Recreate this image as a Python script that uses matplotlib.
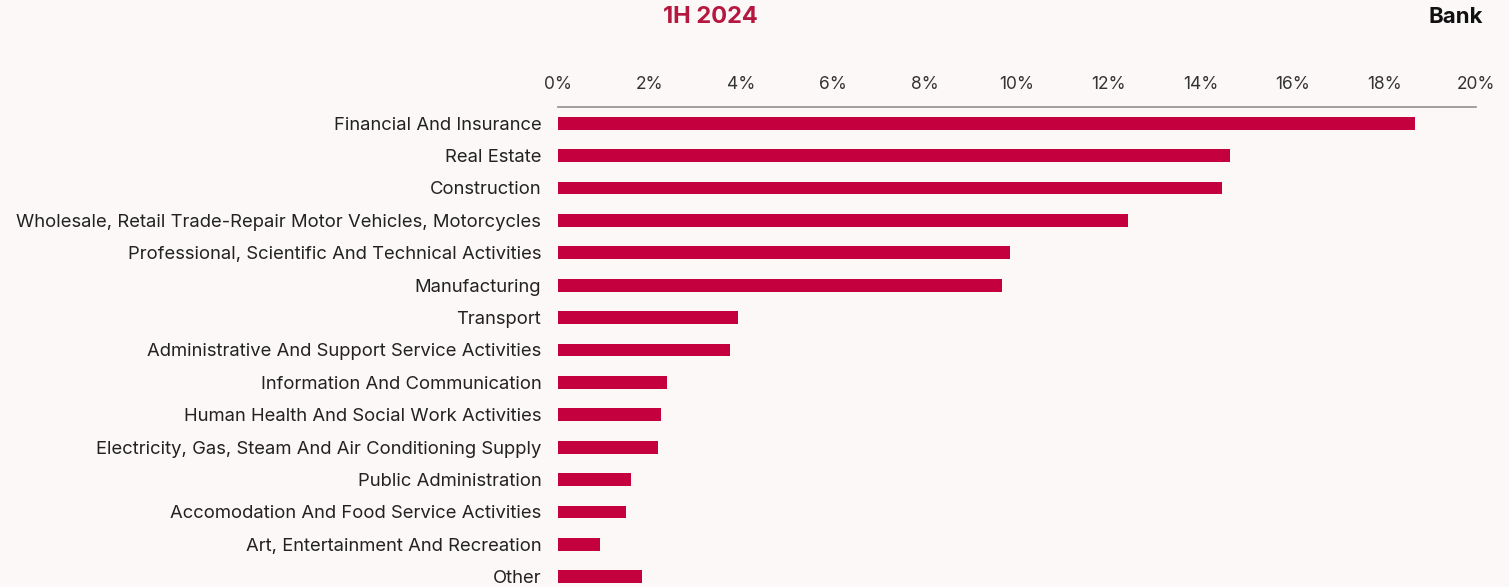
import matplotlib.pyplot as plt
from matplotlib import font_manager

# pick the static Inter files explicitly (the variable font renders too thin)
def inter(style_file):
    for f in font_manager.fontManager.ttflist:
        if f.fname.endswith(style_file):
            return f.fname
    return None

regular = font_manager.FontProperties(fname=inter("Inter-Regular.otf"))
bold = font_manager.FontProperties(fname=inter("Inter-Bold.otf"))

# sector shares of the loan book, 1H 2024
sectors = [
    "Financial And Insurance",
    "Real Estate",
    "Construction",
    "Wholesale, Retail Trade-Repair Motor Vehicles, Motorcycles",
    "Professional, Scientific And Technical Activities",
    "Manufacturing",
    "Transport",
    "Administrative And Support Service Activities",
    "Information And Communication",
    "Human Health And Social Work Activities",
    "Electricity, Gas, Steam And Air Conditioning Supply",
    "Public Administration",
    "Accomodation And Food Service Activities",
    "Art, Entertainment And Recreation",
    "Other",
]
shares = [18.67, 14.64, 14.47, 12.42, 9.85, 9.67, 3.92, 3.75,
          2.37, 2.24, 2.18, 1.59, 1.48, 0.92, 1.83]
ticks = [0, 2, 4, 6, 8, 10, 12, 14, 16, 18, 20]

bg = "#fcf8f8"
bar_color = "#c5003f"

fig = plt.figure(figsize=(15.09, 5.87), dpi=100, facecolor=bg)
ax = fig.add_axes([558 / 1509, -6 / 587, 918 / 1509, 486 / 587])
ax.set_facecolor(bg)

ypos = list(range(len(sectors)))
ax.barh(ypos, shares, height=0.4, color=bar_color)

ax.set_xlim(0, 20)
ax.set_ylim(len(sectors) - 0.5, -0.5)
ax.set_xticks(ticks)
ax.set_xticklabels([f"{t}%" for t in ticks])
ax.xaxis.tick_top()
ax.tick_params(axis='x', length=0, pad=10, labelcolor="#333333")
ax.set_yticks(ypos)
ax.set_yticklabels(sectors)
ax.tick_params(axis='y', length=0, pad=12, labelcolor="#222222")
for lab in ax.get_xticklabels():
    lab.set_fontproperties(regular)
    lab.set_fontsize(12.5)
for lab in ax.get_yticklabels():
    lab.set_fontproperties(regular)
    lab.set_fontsize(13.3)

for side in ["right", "bottom", "left"]:
    ax.spines[side].set_visible(False)
ax.spines["top"].set_color("#999999")
ax.spines["top"].set_linewidth(1.3)

fig.text(710 / 1509, 1 - 17 / 587, "1H 2024", color="#b5173f", fontsize=17,
         fontproperties=bold, ha="center", va="center")
fig.text(1483 / 1509, 1 - 17 / 587, "Bank", color="#111111", fontsize=16,
         fontproperties=bold, ha="right", va="center")

fig.savefig("out.png", dpi=100, facecolor=bg)
